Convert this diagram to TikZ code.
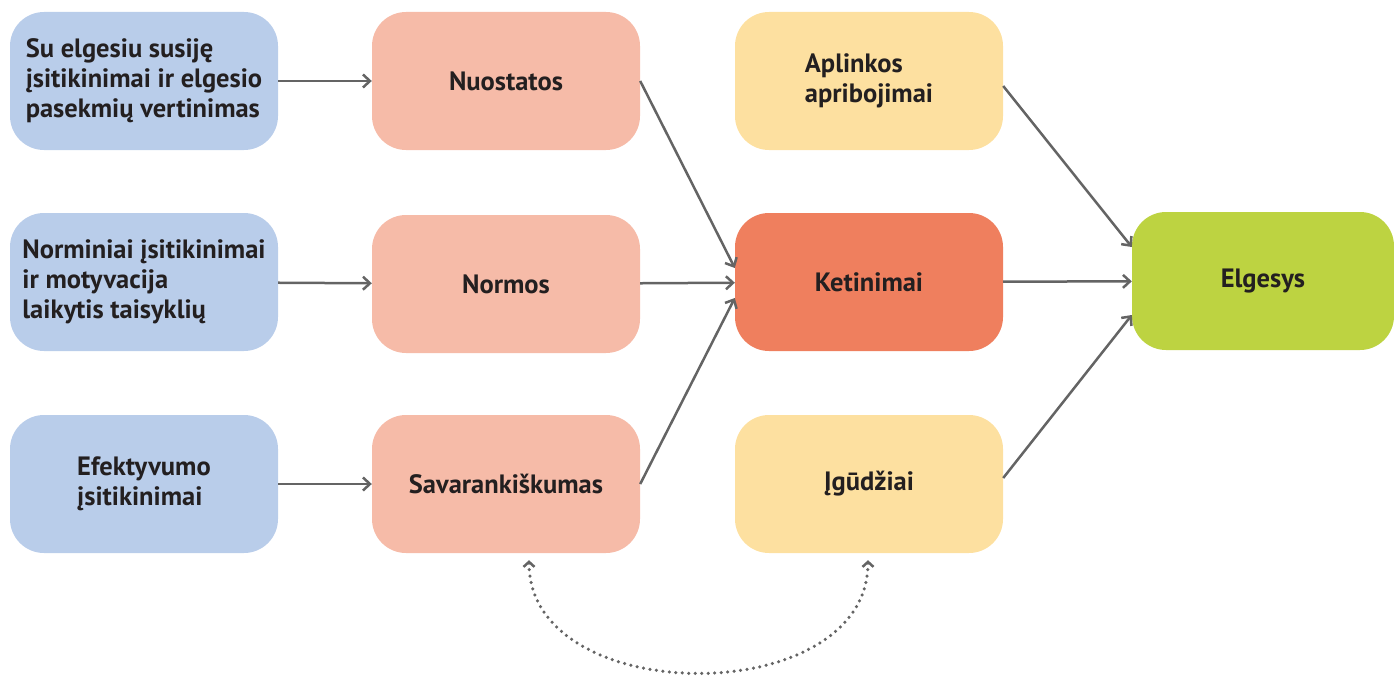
\documentclass[tikz,border=0pt]{standalone}
\usepackage{fontspec}
\setmainfont{PT Sans}
\usetikzlibrary{arrows.meta,positioning}
\definecolor{blau}{HTML}{B9CDEA}
\definecolor{lachs}{HTML}{F6BBA8}
\definecolor{ketrot}{HTML}{EF7F5E}
\definecolor{gelb}{HTML}{FDE0A0}
\definecolor{gruen}{HTML}{BDD341}
\definecolor{pfeilgrau}{HTML}{646464}
\definecolor{schrift}{HTML}{231F20}

\begin{document}
\begin{tikzpicture}[x=1pt,y=-1pt,
    box/.style={rounded corners=34pt,minimum width=268pt,minimum height=138pt,inner sep=0pt,
      font=\bfseries\fontsize{26.5}{30}\selectfont,text=schrift,align=left},
    pfeil/.style={draw=pfeilgrau,line width=2.5pt,-{Straight Barb[length=7pt,width=13pt]}},
    punktpfeil/.style={draw=pfeilgrau,line width=3.5pt,dash pattern=on 0pt off 6.5pt,line cap=round,
      {Straight Barb[length=5pt,width=11pt,line width=2.5pt]}-{Straight Barb[length=5pt,width=11pt,line width=2.5pt]}}]
\useasboundingbox (0,0) rectangle (1394,677);
                  \node[box,fill=blau] (sus) at (144,81) {Su elgesiu susiję\\įsitikinimai ir elgesio\\pasekmių vertinimas};
                  \node[box,fill=blau] (norm) at (144,282) {Norminiai įsitikinimai\\ir motyvacija\\laikytis taisyklių};
                  \node[box,fill=blau] (efe) at (144,484) {Efektyvumo\\įsitikinimai};
                  \node[box,fill=lachs] (nuo) at (506,81) {Nuostatos};
                  \node[box,fill=lachs] (nor) at (506,284) {Normos};
                  \node[box,fill=lachs] (sav) at (506,484) {Savarankiškumas};
                  \node[box,fill=gelb] (apl) at (869,81) {Aplinkos\\apribojimai};
                  \node[box,fill=ketrot] (ket) at (869,282) {Ketinimai};
                  \node[box,fill=gelb] (igu) at (869,484) {Įgūdžiai};
                  \node[box,fill=gruen,minimum width=262pt] (elg) at (1263,281) {Elgesys};

                  \draw[pfeil] (sus) -- (nuo);
                  \draw[pfeil] (norm) -- (nor);
                  \draw[pfeil] (efe) -- (sav);
                  \draw[pfeil] (nuo.east) -- ([yshift=14pt]ket.west);
                  \draw[pfeil] (nor) -- (ket);
                  \draw[pfeil] (sav.east) -- ([yshift=-16pt]ket.west);
                  \draw[pfeil] ([yshift=-5pt]apl.east) -- ([yshift=34pt]elg.west);
                  \draw[pfeil] (ket) -- (elg);
                  \draw[pfeil] ([yshift=6pt]igu.east) -- ([yshift=-34pt]elg.west);
                  \draw[punktpfeil] ([xshift=23pt,yshift=-7pt]sav.south) .. controls +(0,150) and +(0,150) .. ([xshift=-1pt,yshift=-7pt]igu.south);
\end{tikzpicture}
\end{document}
